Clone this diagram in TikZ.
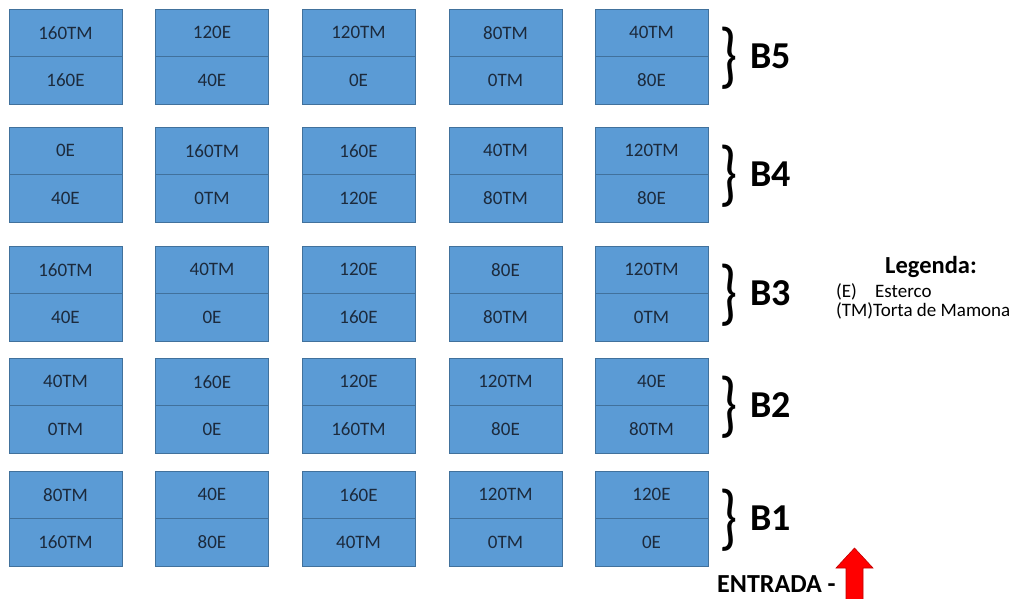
\documentclass[tikz,border=0pt]{standalone}
\usepackage{fontspec}
\setmainfont{Carlito}
\usepackage{xcolor}
\usetikzlibrary{positioning}
\definecolor{cellfill}{HTML}{5B9BD5}
\definecolor{celledge}{HTML}{41719C}
\definecolor{celltext}{HTML}{1C2A3C}
\definecolor{arrowedge}{HTML}{C00000}
\newcommand{\tallbrace}{\scalebox{1}[1.25]{\}}}
\tikzset{
  cell/.style={draw=celledge, fill=cellfill, text=celltext, line width=0.9pt,
    minimum width=113pt, minimum height=47.5pt, inner sep=0pt, outer sep=0pt,
    font=\fontsize{19}{22}\selectfont},
  bracetxt/.style={inner sep=0pt, font=\fontsize{58}{60}\selectfont},
  blocktxt/.style={inner sep=0pt, anchor=west, font=\fontsize{38}{40}\selectfont\bfseries},
  legtxt/.style={inner sep=0pt, anchor=base west, font=\fontsize{19}{22}\selectfont}
}
\begin{document}
\begin{tikzpicture}[x=1pt,y=-1pt]
\useasboundingbox (0,0) rectangle (1021,598);

%B5
\node[cell] (b5c1t) at (65.5,32.75) {160TM};
\node[cell, below=0pt of b5c1t] (b5c1b) {160E};
\node[cell] (b5c2t) at (212,32.75) {120E};
\node[cell, below=0pt of b5c2t] (b5c2b) {40E};
\node[cell] (b5c3t) at (358.5,32.75) {120TM};
\node[cell, below=0pt of b5c3t] (b5c3b) {0E};
\node[cell] (b5c4t) at (505.5,32.75) {80TM};
\node[cell, below=0pt of b5c4t] (b5c4b) {0TM};
\node[cell] (b5c5t) at (651.5,32.75) {40TM};
\node[cell, below=0pt of b5c5t] (b5c5b) {80E};
\node[bracetxt] (br5) at (729,58) {\tallbrace};
\node[blocktxt] (lb5) at (750,56.5) {B5};

%B4
\node[cell] (b4c1t) at (65.5,150.75) {0E};
\node[cell, below=0pt of b4c1t] (b4c1b) {40E};
\node[cell] (b4c2t) at (212,150.75) {160TM};
\node[cell, below=0pt of b4c2t] (b4c2b) {0TM};
\node[cell] (b4c3t) at (358.5,150.75) {160E};
\node[cell, below=0pt of b4c3t] (b4c3b) {120E};
\node[cell] (b4c4t) at (505.5,150.75) {40TM};
\node[cell, below=0pt of b4c4t] (b4c4b) {80TM};
\node[cell] (b4c5t) at (651.5,150.75) {120TM};
\node[cell, below=0pt of b4c5t] (b4c5b) {80E};
\node[bracetxt] (br4) at (729,176) {\tallbrace};
\node[blocktxt] (lb4) at (750,174.5) {B4};

%B3
\node[cell] (b3c1t) at (65.5,269.75) {160TM};
\node[cell, below=0pt of b3c1t] (b3c1b) {40E};
\node[cell] (b3c2t) at (212,269.75) {40TM};
\node[cell, below=0pt of b3c2t] (b3c2b) {0E};
\node[cell] (b3c3t) at (358.5,269.75) {120E};
\node[cell, below=0pt of b3c3t] (b3c3b) {160E};
\node[cell] (b3c4t) at (505.5,269.75) {80E};
\node[cell, below=0pt of b3c4t] (b3c4b) {80TM};
\node[cell] (b3c5t) at (651.5,269.75) {120TM};
\node[cell, below=0pt of b3c5t] (b3c5b) {0TM};
\node[bracetxt] (br3) at (729,295) {\tallbrace};
\node[blocktxt] (lb3) at (750,293.5) {B3};

%B2
\node[cell] (b2c1t) at (65.5,381.75) {40TM};
\node[cell, below=0pt of b2c1t] (b2c1b) {0TM};
\node[cell] (b2c2t) at (212,381.75) {160E};
\node[cell, below=0pt of b2c2t] (b2c2b) {0E};
\node[cell] (b2c3t) at (358.5,381.75) {120E};
\node[cell, below=0pt of b2c3t] (b2c3b) {160TM};
\node[cell] (b2c4t) at (505.5,381.75) {120TM};
\node[cell, below=0pt of b2c4t] (b2c4b) {80E};
\node[cell] (b2c5t) at (651.5,381.75) {40E};
\node[cell, below=0pt of b2c5t] (b2c5b) {80TM};
\node[bracetxt] (br2) at (729,407) {\tallbrace};
\node[blocktxt] (lb2) at (750,405.5) {B2};

%B1
\node[cell] (b1c1t) at (65.5,494.75) {80TM};
\node[cell, below=0pt of b1c1t] (b1c1b) {160TM};
\node[cell] (b1c2t) at (212,494.75) {40E};
\node[cell, below=0pt of b1c2t] (b1c2b) {80E};
\node[cell] (b1c3t) at (358.5,494.75) {160E};
\node[cell, below=0pt of b1c3t] (b1c3b) {40TM};
\node[cell] (b1c4t) at (505.5,494.75) {120TM};
\node[cell, below=0pt of b1c4t] (b1c4b) {0TM};
\node[cell] (b1c5t) at (651.5,494.75) {120E};
\node[cell, below=0pt of b1c5t] (b1c5b) {0E};
\node[bracetxt] (br1) at (729,520) {\tallbrace};
\node[blocktxt] (lb1) at (750,518.5) {B1};

%legenda
\node[inner sep=0pt, anchor=base, font=\fontsize{24.5}{26}\selectfont\bfseries] (leg) at (931,273) {Legenda:};
\node[legtxt] (legE) at (836,297) {(E)};
\node[legtxt] (legEt) at (875,297) {Esterco};
\node[legtxt] (legTM) at (836,316) {(TM)Torta de Mamona};

%entrada
\node[inner sep=0pt, anchor=base west, font=\fontsize{26}{28}\selectfont\bfseries] (entrada) at (717,592) {ENTRADA -};
\coordinate (tip) at (854.5,548);
\draw[fill=red, draw=arrowedge, line width=0.6pt]
  (tip) -- (873,568) -- (863,568) -- (863,600) -- (846,600) -- (846,568) -- (836,568) -- cycle;
\end{tikzpicture}
\end{document}
